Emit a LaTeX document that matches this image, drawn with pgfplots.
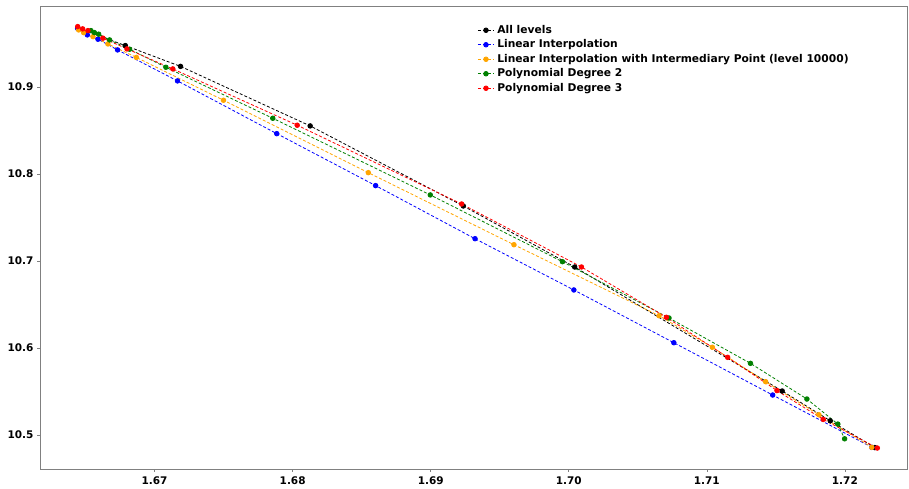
\documentclass[border=0pt]{standalone}
\usepackage{fontspec}
\setmainfont{DejaVu Sans}
\usepackage{pgfplots}
\pgfplotsset{compat=1.18}

\definecolor{cblack}{RGB}{0,0,0}
\definecolor{cblue}{RGB}{0,0,255}
\definecolor{corange}{RGB}{255,165,0}
\definecolor{cgreen}{RGB}{0,128,0}
\definecolor{cred}{RGB}{255,0,0}
\definecolor{spine}{RGB}{128,128,128}

\pgfplotsset{
  curve/.style={color=#1, line width=0.8pt, dash pattern=on 3pt off 2pt,
    mark=*, mark size=2.3pt, mark options={solid, fill=#1, draw=#1}},
}

\begin{document}
\begin{tikzpicture}[font=\bfseries]
\begin{axis}[
  at={(0pt,0pt)}, anchor=south west,
  scale only axis, width=867pt, height=463pt,
  xmin=1.6617, xmax=1.7245, ymin=10.461, ymax=10.993,
  xtick={1.67,1.68,1.69,1.70,1.71,1.72},
  ytick={10.5,10.6,10.7,10.8,10.9},
  scaled ticks=false,
  xticklabel style={/pgf/number format/.cd, fixed, fixed zerofill, precision=2},
  yticklabel style={/pgf/number format/.cd, fixed, fixed zerofill, precision=1},
  /pgf/number format/assume math mode=true,
  tick label style={font=\bfseries\fontsize{10.5}{12}\selectfont, text=black},
  tick align=outside, major tick length=3pt,
  tick style={spine, line width=0.6pt},
  axis line style={spine, line width=0.8pt},
  xtick pos=bottom, ytick pos=left,
  xticklabel shift=1pt, yticklabel shift=0pt,
  legend style={draw=none, fill=none, at={(rel axis cs:0.501,0.968)}, anchor=north west,
    font=\bfseries\fontsize{10.7}{12}\selectfont,
    nodes={inner xsep=3pt, inner ysep=2pt, text height=8pt, text depth=2.5pt},
    row sep=0pt},
  legend cell align=left,
  legend image code/.code={\draw[mark repeat=2, mark phase=2, dash pattern=on 3pt off 2pt]
    plot coordinates {(0pt,0pt) (8pt,0pt) (16pt,0pt)};},
]
% All levels
\addplot[curve=cblack] coordinates {
  (1.66443,10.9678) (1.66788,10.9475) (1.67188,10.9236) (1.68127,10.8552)
  (1.69236,10.7632) (1.70043,10.6931) (1.71546,10.5506) (1.71894,10.5164)
  (1.72217,10.4856)};
\addlegendentry{All levels}
% Linear interpolation
\addplot[curve=cblue] coordinates {
  (1.66443,10.9672) (1.66513,10.9598) (1.66590,10.9548) (1.66732,10.9425)
  (1.67166,10.9069) (1.67885,10.8463) (1.68601,10.7866) (1.69321,10.7256)
  (1.70037,10.6667) (1.70761,10.6061) (1.71477,10.5460) (1.72195,10.4859)};
\addlegendentry{Linear Interpolation}
% Linear interpolation through the level 10000 point
\addplot[curve=corange] coordinates {
  (1.66450,10.9655) (1.66486,10.9624) (1.66554,10.9578) (1.66662,10.9494)
  (1.66868,10.9339) (1.67499,10.8847) (1.68548,10.8015) (1.69603,10.7187)
  (1.70654,10.6371) (1.71040,10.6009) (1.71426,10.5613) (1.71812,10.5233)
  (1.72195,10.4859)};
\addlegendentry{Linear Interpolation with Intermediary Point (level 10000)}
% Polynomial fit, degree 2
\addplot[curve=cgreen] coordinates {
  (1.66539,10.9647) (1.66564,10.9624) (1.66595,10.9606) (1.66674,10.9540)
  (1.66819,10.9433) (1.67082,10.9226) (1.67856,10.8640) (1.68997,10.7759)
  (1.69954,10.6992) (1.70726,10.6345) (1.71316,10.5824) (1.71725,10.5414)
  (1.71949,10.5126) (1.71998,10.4957)};
\addlegendentry{Polynomial Degree 2}
% Polynomial fit, degree 3
\addplot[curve=cred] coordinates {
  (1.66443,10.9693) (1.66479,10.9667) (1.66517,10.9647) (1.66626,10.9560)
  (1.66800,10.9437) (1.67132,10.9207) (1.68033,10.8560) (1.69224,10.7655)
  (1.70092,10.6931) (1.70707,10.6353) (1.71151,10.5893) (1.71508,10.5511)
  (1.71843,10.5180) (1.72235,10.4851)};
\addlegendentry{Polynomial Degree 3}
\end{axis}
\path[use as bounding box] (-40pt,-20pt) rectangle (869pt,469pt);
\end{tikzpicture}
\end{document}
